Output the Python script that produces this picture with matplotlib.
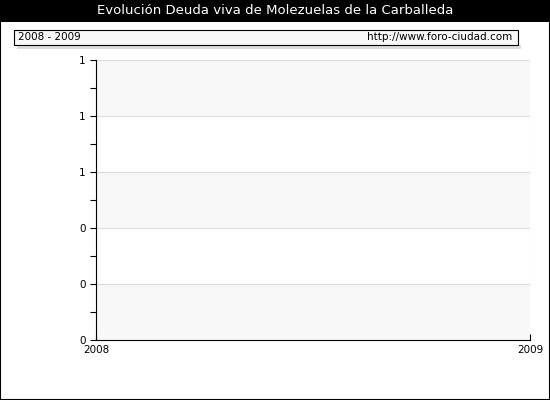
import numpy as np
import matplotlib.pyplot as plt
from matplotlib.patches import Rectangle

title = 'Evolución Deuda viva de Molezuelas de la Carballeda'
period = '2008 - 2009'
url = 'http://www.foro-ciudad.com'
years = [2008, 2009]
y_ticks = [0.0, 0.2, 0.4, 0.6, 0.8, 1.0]
y_labels = [f'{v:.0f}' for v in y_ticks]

plt.rcParams['font.family'] = 'DejaVu Sans'
W, H = 550, 400
fig = plt.figure(figsize=(5.5, 4), dpi=100)
fig.patch.set_facecolor('white')

def fx(px): return px / W
def fy(py): return 1 - py / H

# outer border and title bar
fig.add_artist(Rectangle((0, 0), 1, 1, transform=fig.transFigure, fill=False, ec='black', lw=1.5))
fig.add_artist(Rectangle((0, fy(22)), 1, 22 / H, transform=fig.transFigure, fc='black', ec='none'))
fig.text(0.5, fy(11), title, color='white', ha='center', va='center', fontsize=9.5)

# info box
fig.add_artist(Rectangle((fx(17), fy(49)), fx(504), 4 / H, transform=fig.transFigure, fc='#dddddd', ec='none'))
fig.add_artist(Rectangle((fx(14), fy(45)), fx(504), 15 / H, transform=fig.transFigure, fc='#f8f8f8', ec='black', lw=0.8))
fig.text(fx(18), fy(37.5), period, ha='left', va='center', fontsize=7.5)
fig.text(fx(512), fy(37.5), url, ha='right', va='center', fontsize=7.5)

ax = fig.add_axes([fx(96), fy(340), fx(434), (340 - 60) / H])
ax.set_xlim(years[0], years[1])
ax.set_ylim(0, 1)
for i in range(len(y_ticks) - 1):
    if i % 2 == 0:
        ax.axhspan(y_ticks[len(y_ticks) - 2 - i], y_ticks[len(y_ticks) - 1 - i], color='#f8f8f8', lw=0)
for v in y_ticks[1:]:
    ax.axhline(v, color='#dddddd', lw=0.8)
ax.axvline(years[1], color='#dddddd', lw=0.8)
ax.set_yticks(y_ticks)
ax.set_yticklabels(y_labels, fontsize=7.5)
ax.set_yticks(np.arange(0.1, 1.0, 0.2), minor=True)
ax.set_xticks(years)
ax.set_xticklabels([str(y) for y in years], fontsize=7.5)
ax.tick_params(axis='both', which='both', length=4, width=0.8, direction='out')
ax.tick_params(axis='x', direction='in', length=4)
for s in ['top', 'right']:
    ax.spines[s].set_visible(False)
ax.patch.set_alpha(0)

fig.savefig('out.png', dpi=100)
